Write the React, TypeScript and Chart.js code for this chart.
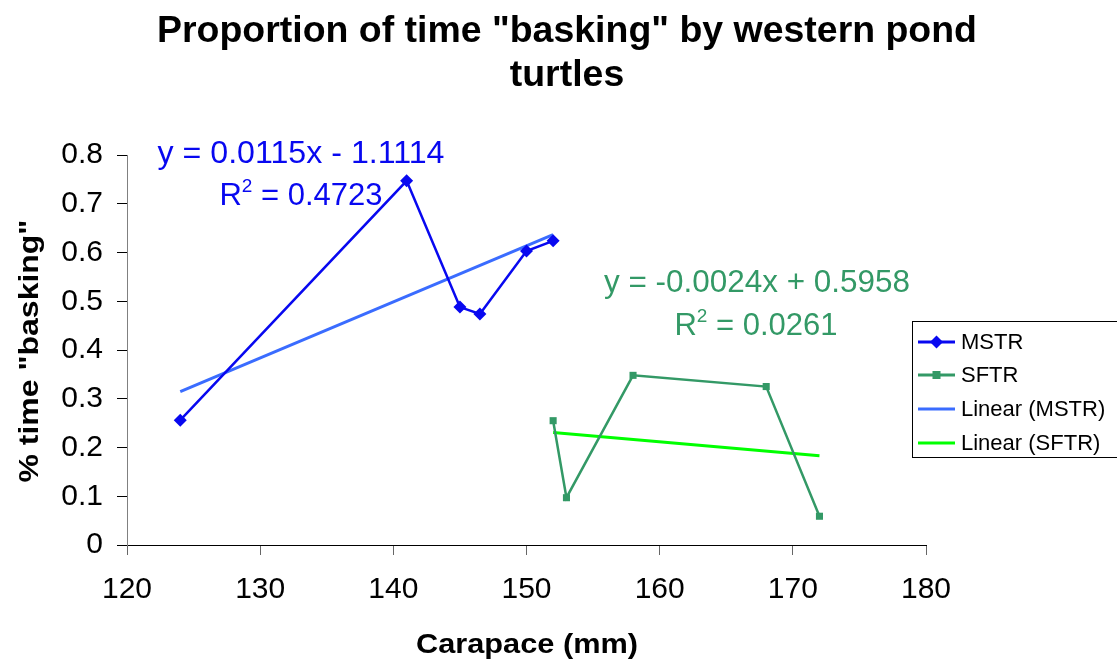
import React, { useEffect, useRef } from "react";
import { Chart, registerables } from "chart.js";

Chart.register(...registerables);

// ---- data ----
const mstrX = [124, 141, 145, 146.5, 150, 152];
const mstrY = [0.256, 0.747, 0.488, 0.474, 0.603, 0.624];
const sftrX = [152, 153, 158, 168, 172];
const sftrY = [0.255, 0.097, 0.348, 0.325, 0.059];

const mstrSlope = 0.0115;
const mstrIntercept = -1.1114;
const mstrR2 = "0.4723";
const sftrSlope = -0.0024;
const sftrIntercept = 0.5958;
const sftrR2 = "0.0261";

const xTicks = [120, 130, 140, 150, 160, 170, 180];
const xTickLabels = ["120", "130", "140", "150", "160", "170", "180"];
const yTicks = [0, 0.1, 0.2, 0.3, 0.4, 0.5, 0.6, 0.7, 0.8];
const yTickLabels = ["0", "0.1", "0.2", "0.3", "0.4", "0.5", "0.6", "0.7", "0.8"];

const seriesNames = ["MSTR", "SFTR", "Linear (MSTR)", "Linear (SFTR)"];
const titleLines = ['Proportion of time "basking" by western pond', "turtles"];
const xTitle = "Carapace (mm)";
const yTitle = '% time "basking"';

// ---- styles ----
const FONT = '"Liberation Sans", Arial, sans-serif';
const C_MSTR = "#0808F0";
const C_MSTR_T = "#3A6CFF";
const C_SFTR = "#339966";
const C_SFTR_T = "#00FF00";

function trend(xs: number[], m: number, b: number) {
  const lo = Math.min(...xs);
  const hi = Math.max(...xs);
  return [
    { x: lo, y: m * lo + b },
    { x: hi, y: m * hi + b },
  ];
}

function fitText(ctx: CanvasRenderingContext2D, text: string, cx: number, y: number, width: number) {
  const w = ctx.measureText(text).width;
  const s = width / w;
  ctx.save();
  ctx.translate(cx, y);
  ctx.scale(s, 1);
  ctx.textAlign = "center";
  ctx.fillText(text, 0, 0);
  ctx.restore();
}

function drawR2(ctx: CanvasRenderingContext2D, val: string, cx: number, baseline: number, size: number, color: string) {
  const main = `${size}px ${FONT}`;
  const sup = `${Math.round(size * 0.62)}px ${FONT}`;
  ctx.save();
  ctx.fillStyle = color;
  ctx.textAlign = "left";
  ctx.textBaseline = "alphabetic";
  ctx.font = main;
  const wR = ctx.measureText("R").width;
  const rest = " = " + val;
  const wRest = ctx.measureText(rest).width;
  ctx.font = sup;
  const w2 = ctx.measureText("2").width;
  const total = wR + w2 + wRest;
  let x = cx - total / 2;
  ctx.font = main;
  ctx.fillText("R", x, baseline);
  x += wR;
  ctx.font = sup;
  ctx.fillText("2", x, baseline - size * 0.42);
  x += w2;
  ctx.font = main;
  ctx.fillText(rest, x, baseline);
  ctx.restore();
}

const decorPlugin = {
  id: "decor",
  beforeDraw(chart: any) {
    const ctx = chart.ctx as CanvasRenderingContext2D;
    ctx.save();
    ctx.fillStyle = "#fff";
    ctx.fillRect(0, 0, chart.width, chart.height);
    ctx.restore();
  },
  afterDraw(chart: any) {
    const ctx = chart.ctx as CanvasRenderingContext2D;
    ctx.save();
    // title
    ctx.fillStyle = "#000";
    ctx.textBaseline = "alphabetic";
    ctx.font = `bold 36px ${FONT}`;
    const s = 820 / ctx.measureText(titleLines[0]).width;
    fitText(ctx, titleLines[0], 567, 42, 820);
    const w2 = ctx.measureText(titleLines[1]).width;
    fitText(ctx, titleLines[1], 567, 86, w2 * s);

    // x title
    ctx.font = `bold 28px ${FONT}`;
    fitText(ctx, xTitle, 527, 653, 222);

    // y title
    ctx.save();
    ctx.translate(38, 351);
    ctx.rotate(-Math.PI / 2);
    ctx.font = `bold 28px ${FONT}`;
    fitText(ctx, yTitle, 0, 0, 263);
    ctx.restore();

    // equations
    ctx.font = `31px ${FONT}`;
    ctx.fillStyle = C_MSTR;
    ctx.textAlign = "center";
    fitText(ctx, `y = ${mstrSlope}x - ${Math.abs(mstrIntercept)}`, 301, 163, 287);
    drawR2(ctx, mstrR2, 301, 205, 31, C_MSTR);
    ctx.font = `31px ${FONT}`;
    ctx.fillStyle = C_SFTR;
    fitText(ctx, `y = ${sftrSlope}x + ${sftrIntercept}`, 757, 292, 306);
    drawR2(ctx, sftrR2, 756, 335, 31, C_SFTR);

    // legend
    ctx.strokeStyle = "#000";
    ctx.lineWidth = 1;
    ctx.strokeRect(912.5, 321.5, 220, 136);
    const rows = [342, 375, 409, 443];
    const cols = [C_MSTR, C_SFTR, C_MSTR_T, C_SFTR_T];
    rows.forEach((ry, i) => {
      ctx.strokeStyle = cols[i];
      ctx.lineWidth = 3;
      ctx.beginPath();
      ctx.moveTo(918, ry);
      ctx.lineTo(955, ry);
      ctx.stroke();
      ctx.fillStyle = cols[i];
      if (i === 0) {
        ctx.beginPath();
        ctx.moveTo(936.5, ry - 6.5);
        ctx.lineTo(943, ry);
        ctx.lineTo(936.5, ry + 6.5);
        ctx.lineTo(930, ry);
        ctx.closePath();
        ctx.fill();
      } else if (i === 1) {
        ctx.fillRect(932.5, ry - 4, 8, 8);
      }
      ctx.fillStyle = "#000";
      ctx.font = `22px ${FONT}`;
      ctx.textAlign = "left";
      ctx.textBaseline = "middle";
      ctx.fillText(seriesNames[i], 961, ry + 1);
    });
    ctx.restore();
  },
};

export default function App() {
  const ref = useRef<HTMLCanvasElement | null>(null);
  useEffect(() => {
    if (!ref.current) return;
    const chart = new Chart(ref.current, {
      type: "scatter",
      data: {
        datasets: [
          {
            label: seriesNames[0],
            data: mstrX.map((x, i) => ({ x, y: mstrY[i] })),
            showLine: true,
            borderColor: C_MSTR,
            backgroundColor: C_MSTR,
            borderWidth: 2.5,
            pointStyle: "rectRot",
            pointRadius: 6.5,
            pointBorderWidth: 0,
            order: 1,
          },
          {
            label: seriesNames[1],
            data: sftrX.map((x, i) => ({ x, y: sftrY[i] })),
            showLine: true,
            borderColor: C_SFTR,
            backgroundColor: C_SFTR,
            borderWidth: 2.5,
            pointStyle: "rect",
            pointRadius: 5,
            pointBorderWidth: 0,
            order: 1,
          },
          {
            label: seriesNames[2],
            data: trend(mstrX, mstrSlope, mstrIntercept),
            showLine: true,
            borderColor: C_MSTR_T,
            borderWidth: 3,
            pointRadius: 0,
            order: 2,
          },
          {
            label: seriesNames[3],
            data: trend(sftrX, sftrSlope, sftrIntercept),
            showLine: true,
            borderColor: C_SFTR_T,
            borderWidth: 3,
            pointRadius: 0,
            order: 2,
          },
        ],
      },
      options: {
        responsive: false,
        animation: false,
        layout: { padding: { top: 155, right: 191, left: 0, bottom: 0 } },
        plugins: {
          legend: { display: false },
          title: { display: false },
          tooltip: { enabled: false },
        },
        scales: {
          x: {
            type: "linear",
            min: 120,
            max: 180,
            afterBuildTicks: (scale: any) => {
              scale.ticks = xTicks.map((v) => ({ value: v }));
            },
            afterFit: (scale: any) => {
              scale.height = 117;
            },
            ticks: {
              callback: (_v: any, i: number) => xTickLabels[i],
              font: { family: FONT, size: 30 },
              color: "#000",
              padding: 17,
              maxRotation: 0,
            },
            grid: {
              display: true,
              drawOnChartArea: false,
              drawTicks: true,
              tickLength: 10,
              color: "#666",
            },
            border: { display: true, color: "#000", width: 1 },
          },
          y: {
            type: "linear",
            min: 0,
            max: 0.8,
            afterBuildTicks: (scale: any) => {
              scale.ticks = yTicks.map((v) => ({ value: v }));
            },
            afterFit: (scale: any) => {
              scale.width = 127;
            },
            ticks: {
              callback: (_v: any, i: number) => yTickLabels[i],
              font: { family: FONT, size: 30 },
              color: "#000",
              padding: 14,
            },
            grid: {
              display: true,
              drawOnChartArea: false,
              drawTicks: true,
              tickLength: 10,
              color: "#000",
            },
            border: { display: true, color: "#808080", width: 1 },
          },
        },
      },
      plugins: [decorPlugin],
    } as any);
    return () => chart.destroy();
  }, []);
  return (
    <div style={{ position: "fixed", left: 0, top: 0, width: 1117, height: 662, background: "#fff" }}>
      <canvas ref={ref} width={1117} height={662} style={{ display: "block" }} />
    </div>
  );
}
